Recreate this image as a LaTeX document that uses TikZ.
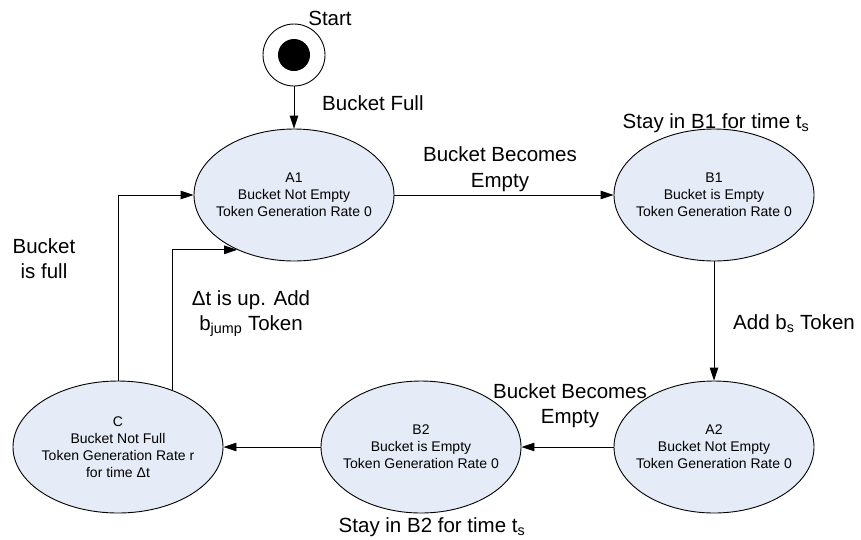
\documentclass[tikz,border=0pt]{standalone}
\usepackage{fontspec}
\setmainfont{Liberation Sans}
\usetikzlibrary{arrows.meta,shapes.geometric}
\definecolor{stfill}{RGB}{229,236,247}
\begin{document}
\begin{tikzpicture}[x=1pt,y=-1pt,
  state/.style={ellipse, draw=black, line width=0.9pt, fill=stfill, minimum width=200pt, minimum height=132pt, inner sep=0pt},
  sttext/.style={align=center, font=\fontsize{14}{17}\selectfont, inner sep=0pt},
  lbl/.style={font=\fontsize{20.5}{25}\selectfont, inner sep=0pt},
  arr/.style={-{Triangle[length=13pt,width=8.5pt]}, line width=0.9pt}]
\useasboundingbox (0,0) rectangle (861,539);
% start
\node[circle, draw=black, line width=0.9pt, fill=white, minimum size=62pt, inner sep=0pt] (start) at (294,55) {};
\node[circle, fill=black, minimum size=32pt, inner sep=0pt] (startdot) at (start) {};
\node[lbl, anchor=base] (startlbl) at (330,25) {Start};
% states
\node[state] (A1) at (294,195) {};
\node[state] (B1) at (714,195) {};
\node[state] (A2) at (714,447) {};
\node[state] (B2) at (421,447) {};
\node[state, minimum width=210pt] (C) at (118,447) {};
\node[sttext] (A1t) at (A1) {A1\\Bucket Not Empty\\Token Generation Rate 0};
\node[sttext] (B1t) at (B1) {B1\\Bucket is Empty\\Token Generation Rate 0};
\node[sttext] (A2t) at (A2) {A2\\Bucket Not Empty\\Token Generation Rate 0};
\node[sttext] (B2t) at (B2) {B2\\Bucket is Empty\\Token Generation Rate 0};
\node[sttext] (Ct) at (C) {C\\Bucket Not Full\\Token Generation Rate r\\for time Δt};
% connectors
\draw[arr] (start) -- (A1);
\draw[arr] (A1) -- (B1);
\draw[arr] (B1) -- (A2);
\draw[arr] (A2) -- (B2);
\draw[arr] (B2) -- (C);
\draw[arr] (C.north) |- (A1.west);
\draw[arr] (C.46) |- (A1.224);
% labels
\node[lbl, anchor=base west] (lfull) at (322,110) {Bucket Full};
\node[lbl, anchor=base] (lbe1a) at (500,161) {Bucket Becomes};
\node[lbl, anchor=base] (lbe1b) at (500,187) {Empty};
\node[lbl, anchor=base] (lstay1) at (716,128) {Stay in B1 for time t\textsubscript{s}};
\node[lbl, anchor=base west] (ladd) at (733,329) {Add b\textsubscript{s} Token};
\node[lbl, anchor=base] (lbe2a) at (570,398) {Bucket Becomes};
\node[lbl, anchor=base] (lbe2b) at (570,423) {Empty};
\node[lbl, anchor=base] (lstay2) at (432,532) {Stay in B2 for time t\textsubscript{s}};
\node[lbl, anchor=base] (lisfa) at (44,253) {Bucket};
\node[lbl, anchor=base] (lisfb) at (44,278) {is full};
\node[lbl, anchor=base] (ldta) at (251,305) {Δt is up. Add};
\node[lbl, anchor=base] (ldtb) at (251,330) {b\textsubscript{jump} Token};
\end{tikzpicture}
\end{document}
